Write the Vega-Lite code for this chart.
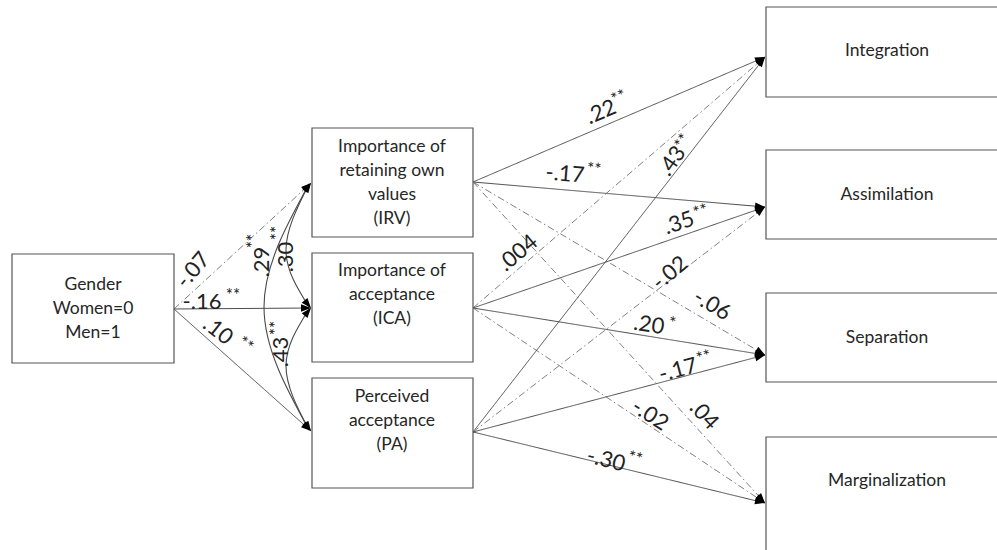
{
  "$schema": "https://vega.github.io/schema/vega-lite/v6.json",
  "width": 997,
  "height": 550,
  "padding": 0,
  "autosize": {"type": "fit", "contains": "padding"},
  "background": "white",
  "config": {"view": {"stroke": null}},
  "datasets": {
    "boxes": [
      {"id": "Gender", "x": 12, "x2": 174, "y": 254, "y2": 363},
      {"id": "IRV", "x": 312, "x2": 473, "y": 128, "y2": 237},
      {"id": "ICA", "x": 312, "x2": 473, "y": 253, "y2": 362},
      {"id": "PA", "x": 312, "x2": 473, "y": 378, "y2": 488},
      {"id": "Integration", "x": 766, "x2": 1010, "y": 7, "y2": 97},
      {"id": "Assimilation", "x": 766, "x2": 1010, "y": 150, "y2": 239},
      {"id": "Separation", "x": 766, "x2": 1010, "y": 293, "y2": 382},
      {"id": "Marginalization", "x": 766, "x2": 1010, "y": 437, "y2": 570}
    ],
    "boxtext": [
      {"text": "Gender", "x": 93, "y": 285},
      {"text": "Women=0", "x": 93, "y": 309},
      {"text": "Men=1", "x": 93, "y": 333},
      {"text": "Importance of", "x": 392, "y": 147},
      {"text": "retaining own", "x": 392, "y": 171},
      {"text": "values", "x": 392, "y": 195},
      {"text": "(IRV)", "x": 392, "y": 219},
      {"text": "Importance of", "x": 392, "y": 271},
      {"text": "acceptance", "x": 392, "y": 295},
      {"text": "(ICA)", "x": 392, "y": 319},
      {"text": "Perceived", "x": 392, "y": 397},
      {"text": "acceptance", "x": 392, "y": 421},
      {"text": "(PA)", "x": 392, "y": 445},
      {"text": "Integration", "x": 887, "y": 51},
      {"text": "Assimilation", "x": 887, "y": 195},
      {"text": "Separation", "x": 887, "y": 338},
      {"text": "Marginalization", "x": 887, "y": 481}
    ],
    "paths": [
      {"from": "Gender", "to": "IRV", "x": 174, "y": 309, "x2": 311, "y2": 183, "sig": "no"},
      {"from": "Gender", "to": "ICA", "x": 174, "y": 309, "x2": 311, "y2": 308, "sig": "yes"},
      {"from": "Gender", "to": "PA", "x": 174, "y": 309, "x2": 311, "y2": 431, "sig": "yes"},
      {"from": "IRV", "to": "Integration", "x": 473, "y": 182, "x2": 765, "y2": 57, "sig": "yes"},
      {"from": "IRV", "to": "Assimilation", "x": 473, "y": 182, "x2": 765, "y2": 207, "sig": "yes"},
      {"from": "IRV", "to": "Separation", "x": 473, "y": 182, "x2": 765, "y2": 355, "sig": "no"},
      {"from": "IRV", "to": "Marginalization", "x": 473, "y": 182, "x2": 765, "y2": 503, "sig": "no"},
      {"from": "ICA", "to": "Integration", "x": 473, "y": 308, "x2": 765, "y2": 57, "sig": "no"},
      {"from": "ICA", "to": "Assimilation", "x": 473, "y": 308, "x2": 765, "y2": 207, "sig": "yes"},
      {"from": "ICA", "to": "Separation", "x": 473, "y": 308, "x2": 765, "y2": 355, "sig": "yes"},
      {"from": "ICA", "to": "Marginalization", "x": 473, "y": 308, "x2": 765, "y2": 503, "sig": "no"},
      {"from": "PA", "to": "Integration", "x": 473, "y": 432, "x2": 765, "y2": 57, "sig": "yes"},
      {"from": "PA", "to": "Assimilation", "x": 473, "y": 432, "x2": 765, "y2": 207, "sig": "no"},
      {"from": "PA", "to": "Separation", "x": 473, "y": 432, "x2": 765, "y2": 355, "sig": "yes"},
      {"from": "PA", "to": "Marginalization", "x": 473, "y": 432, "x2": 765, "y2": 503, "sig": "yes"}
    ],
    "curves": [
      {"pair": "IRV-PA", "k": 0, "x": 309, "y": 184},
      {"pair": "IRV-PA", "k": 1, "x": 264, "y": 307},
      {"pair": "IRV-PA", "k": 2, "x": 309, "y": 430},
      {"pair": "IRV-ICA", "k": 0, "x": 309, "y": 184},
      {"pair": "IRV-ICA", "k": 1, "x": 286, "y": 250},
      {"pair": "IRV-ICA", "k": 2, "x": 309, "y": 307},
      {"pair": "ICA-PA", "k": 0, "x": 309, "y": 309},
      {"pair": "ICA-PA", "k": 1, "x": 286, "y": 366},
      {"pair": "ICA-PA", "k": 2, "x": 309, "y": 430}
    ],
    "curveheads": [
      {"x": 311, "y": 183, "angle": -55},
      {"x": 311, "y": 308, "angle": 50},
      {"x": 311, "y": 308, "angle": -50},
      {"x": 311, "y": 431, "angle": 55}
    ],
    "coefs": [
      {"text": "-.07", "x": 193, "y": 270, "angle": -50},
      {"text": "-.16", "x": 202, "y": 302, "angle": 0},
      {"text": ".10", "x": 218, "y": 331, "angle": 38},
      {"text": ".29", "x": 262, "y": 262, "angle": -90},
      {"text": ".30", "x": 286, "y": 257, "angle": -90},
      {"text": ".43", "x": 281, "y": 352, "angle": -90},
      {"text": ".22", "x": 601, "y": 112, "angle": -23},
      {"text": "-.17", "x": 565, "y": 174, "angle": 5},
      {"text": ".43", "x": 672, "y": 161, "angle": -55},
      {"text": ".35", "x": 679, "y": 223, "angle": -19},
      {"text": ".004", "x": 518, "y": 253, "angle": -40},
      {"text": "-.02", "x": 670, "y": 273, "angle": -40},
      {"text": "-.06", "x": 712, "y": 305, "angle": 31},
      {"text": ".20", "x": 649, "y": 325, "angle": 9},
      {"text": "-.17", "x": 678, "y": 370, "angle": -15},
      {"text": "-.02", "x": 650, "y": 415, "angle": 33},
      {"text": ".04", "x": 704, "y": 415, "angle": 47},
      {"text": "-.30", "x": 606, "y": 460, "angle": 14}
    ],
    "stars": [
      {"text": "**", "x": 233, "y": 296, "angle": 0},
      {"text": "**", "x": 245, "y": 345, "angle": 38},
      {"text": "**", "x": 254, "y": 241, "angle": -90},
      {"text": "**", "x": 278, "y": 233, "angle": -90},
      {"text": "**", "x": 277, "y": 328, "angle": -90},
      {"text": "**", "x": 619, "y": 98, "angle": -23},
      {"text": "**", "x": 594, "y": 170, "angle": 5},
      {"text": "**", "x": 683, "y": 142, "angle": -55},
      {"text": "**", "x": 701, "y": 212, "angle": -19},
      {"text": "*", "x": 672, "y": 324, "angle": 9},
      {"text": "**", "x": 704, "y": 358, "angle": -15},
      {"text": "**", "x": 635, "y": 459, "angle": 14}
    ]
  },
  "layer": [
    {
      "data": {"name": "paths"},
      "mark": {"type": "rule", "strokeWidth": 1},
      "encoding": {
        "x": {"field": "x", "type": "quantitative", "axis": null, "scale": {"domain": [0, 997], "nice": false, "zero": false}},
        "y": {"field": "y", "type": "quantitative", "axis": null, "scale": {"domain": [0, 550], "reverse": true, "nice": false, "zero": false}},
        "x2": {"field": "x2"},
        "y2": {"field": "y2"},
        "color": {"field": "sig", "type": "nominal", "scale": {"domain": ["yes", "no"], "range": ["#4a4a4a", "#808080"]}, "legend": null},
        "strokeDash": {"field": "sig", "type": "nominal", "scale": {"domain": ["yes", "no"], "range": [[1, 0], [7, 3, 1.5, 3]]}, "legend": null}
      }
    },
    {
      "data": {"name": "curves"},
      "mark": {"type": "line", "interpolate": "natural", "color": "#4a4a4a", "strokeWidth": 1.1},
      "encoding": {
        "x": {"field": "x", "type": "quantitative", "axis": null, "scale": {"domain": [0, 997], "nice": false, "zero": false}},
        "y": {"field": "y", "type": "quantitative", "axis": null, "scale": {"domain": [0, 550], "reverse": true, "nice": false, "zero": false}},
        "detail": {"field": "pair", "type": "nominal"},
        "order": {"field": "k", "type": "quantitative"}
      }
    },
    {
      "data": {"name": "boxes"},
      "mark": {"type": "rect", "fill": "white", "stroke": "#555555", "strokeWidth": 1.2, "clip": true},
      "encoding": {
        "x": {"field": "x", "type": "quantitative", "axis": null, "scale": {"domain": [0, 997], "nice": false, "zero": false}},
        "x2": {"field": "x2"},
        "y": {"field": "y", "type": "quantitative", "axis": null, "scale": {"domain": [0, 550], "reverse": true, "nice": false, "zero": false}},
        "y2": {"field": "y2"}
      }
    },
    {
      "data": {"name": "paths"},
      "transform": [{"calculate": "atan2(datum.y2 - datum.y, datum.x2 - datum.x) * 180 / PI", "as": "angle"}],
      "mark": {"type": "point", "shape": "M0,0L-2,-0.75L-2,0.75Z", "filled": true, "color": "black", "opacity": 1, "size": 100},
      "encoding": {
        "x": {"field": "x2", "type": "quantitative", "axis": null, "scale": {"domain": [0, 997], "nice": false, "zero": false}},
        "y": {"field": "y2", "type": "quantitative", "axis": null, "scale": {"domain": [0, 550], "reverse": true, "nice": false, "zero": false}},
        "angle": {"field": "angle", "type": "quantitative", "scale": null}
      }
    },
    {
      "data": {"name": "curveheads"},
      "mark": {"type": "point", "shape": "M0,0L-2,-0.75L-2,0.75Z", "filled": true, "color": "black", "opacity": 1, "size": 100},
      "encoding": {
        "x": {"field": "x", "type": "quantitative", "axis": null, "scale": {"domain": [0, 997], "nice": false, "zero": false}},
        "y": {"field": "y", "type": "quantitative", "axis": null, "scale": {"domain": [0, 550], "reverse": true, "nice": false, "zero": false}},
        "angle": {"field": "angle", "type": "quantitative", "scale": null}
      }
    },
    {
      "data": {"name": "boxtext"},
      "mark": {"type": "text", "font": "Lato", "fontSize": 17.5, "color": "#262626", "align": "center", "baseline": "middle"},
      "encoding": {
        "x": {"field": "x", "type": "quantitative", "axis": null, "scale": {"domain": [0, 997], "nice": false, "zero": false}},
        "y": {"field": "y", "type": "quantitative", "axis": null, "scale": {"domain": [0, 550], "reverse": true, "nice": false, "zero": false}},
        "text": {"field": "text", "type": "nominal"}
      }
    },
    {
      "data": {"name": "coefs"},
      "mark": {"type": "text", "font": "Lato", "fontSize": 22, "color": "#222222", "align": "center", "baseline": "middle"},
      "encoding": {
        "x": {"field": "x", "type": "quantitative", "axis": null, "scale": {"domain": [0, 997], "nice": false, "zero": false}},
        "y": {"field": "y", "type": "quantitative", "axis": null, "scale": {"domain": [0, 550], "reverse": true, "nice": false, "zero": false}},
        "text": {"field": "text", "type": "nominal"},
        "angle": {"field": "angle", "type": "quantitative", "scale": null}
      }
    },
    {
      "data": {"name": "stars"},
      "mark": {"type": "text", "font": "Lato", "fontSize": 17, "color": "#222222", "align": "center", "baseline": "middle"},
      "encoding": {
        "x": {"field": "x", "type": "quantitative", "axis": null, "scale": {"domain": [0, 997], "nice": false, "zero": false}},
        "y": {"field": "y", "type": "quantitative", "axis": null, "scale": {"domain": [0, 550], "reverse": true, "nice": false, "zero": false}},
        "text": {"field": "text", "type": "nominal"},
        "angle": {"field": "angle", "type": "quantitative", "scale": null}
      }
    }
  ]
}
